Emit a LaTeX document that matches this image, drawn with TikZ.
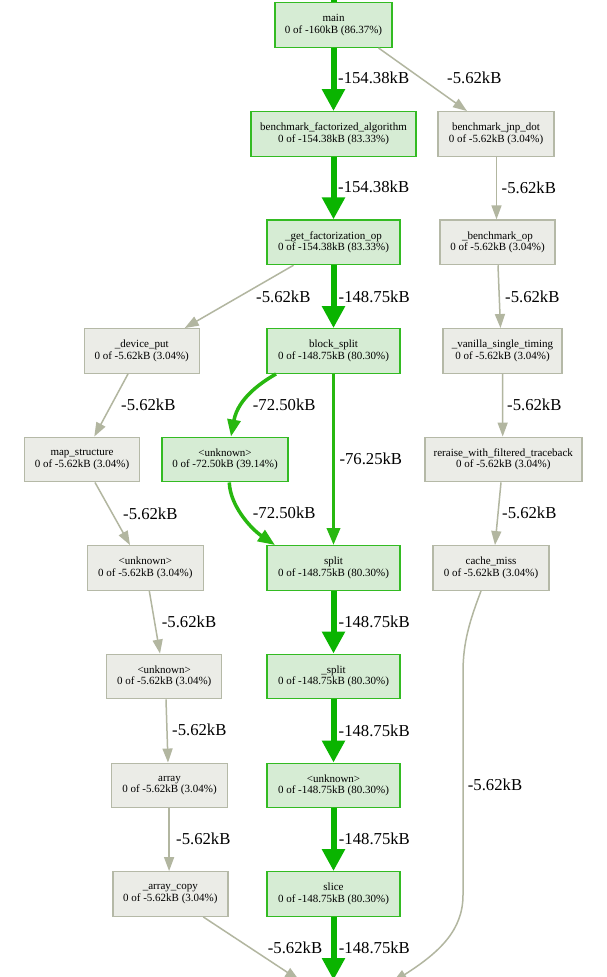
\documentclass[tikz,border=0pt]{standalone}
\usepackage{fontspec}
\setmainfont{Liberation Serif}
\usetikzlibrary{arrows.meta}

\definecolor{hotfill}{HTML}{D6ECD4}
\definecolor{hotline}{HTML}{33BB22}
\definecolor{hotedge}{HTML}{0AB400}
\definecolor{midedge}{HTML}{28B810}
\definecolor{coldfill}{HTML}{EBECE7}
\definecolor{coldline}{HTML}{B5B9A7}
\definecolor{coldedge}{HTML}{B2B6A0}

\tikzset{
  fn/.style={draw, rectangle, minimum height=44.5pt, inner sep=0pt, align=center,
             font=\fontsize{11}{11.5}\selectfont, line width=1.4pt},
  hot/.style={fn, fill=hotfill, draw=hotline},
  cold/.style={fn, fill=coldfill, draw=coldline},
  lbl/.style={anchor=west, inner sep=0pt, font=\fontsize{16.7}{16.7}\selectfont},
  heavy/.style={draw=hotedge, line width=6pt, -{Triangle[width=22pt,length=22pt]}},
  medium/.style={draw=midedge, line width=3.5pt, -{Triangle[width=13pt,length=17pt]}},
  thin/.style={draw=coldedge, line width=1.5pt, -{Triangle[width=10pt,length=14pt]}},
}

\begin{document}
\begin{tikzpicture}[x=1pt,y=-1pt]
\clip (0,0) rectangle (607,977);
\fill[white] (0,0) rectangle (607,977);

% hot path
\node[hot, minimum width=117pt] (main)  at (333.5,25)    {main\\0 of -160kB (86.37\%)};
\node[hot, minimum width=165pt] (bfa)   at (333.5,134)   {benchmark\_factorized\_algorithm\\0 of -154.38kB (83.33\%)};
\node[hot, minimum width=133pt] (gfo)   at (333.5,242.3) {\_get\_factorization\_op\\0 of -154.38kB (83.33\%)};
\node[hot, minimum width=133pt] (bs)    at (333.5,351)   {block\_split\\0 of -148.75kB (80.30\%)};
\node[hot, minimum width=126pt] (u72)   at (225,459.5)   {<unknown>\\0 of -72.50kB (39.14\%)};
\node[hot, minimum width=133pt] (split) at (333.5,568)   {split\\0 of -148.75kB (80.30\%)};
\node[hot, minimum width=133pt] (xsplit) at (333.5,676.5) {\_split\\0 of -148.75kB (80.30\%)};
\node[hot, minimum width=133pt] (u148)  at (333.5,785.5) {<unknown>\\0 of -148.75kB (80.30\%)};
\node[hot, minimum width=133pt] (slice) at (333.5,894)   {slice\\0 of -148.75kB (80.30\%)};

% right column
\node[cold, minimum width=116pt] (bjd)  at (496,134)     {benchmark\_jnp\_dot\\0 of -5.62kB (3.04\%)};
\node[cold, minimum width=115pt] (bop)  at (497.5,242.3) {\_benchmark\_op\\0 of -5.62kB (3.04\%)};
\node[cold, minimum width=119pt] (vst)  at (502.5,351)   {\_vanilla\_single\_timing\\0 of -5.62kB (3.04\%)};
\node[cold, minimum width=157pt] (rwft) at (503.3,459.5) {reraise\_with\_filtered\_traceback\\0 of -5.62kB (3.04\%)};
\node[cold, minimum width=116pt] (cm)   at (491,568)     {cache\_miss\\0 of -5.62kB (3.04\%)};

% left column
\node[cold, minimum width=115pt] (dp)   at (141.7,351)   {\_device\_put\\0 of -5.62kB (3.04\%)};
\node[cold, minimum width=115pt] (ms)   at (82,459.5)    {map\_structure\\0 of -5.62kB (3.04\%)};
\node[cold, minimum width=116pt] (ul1)  at (145.3,568)   {<unknown>\\0 of -5.62kB (3.04\%)};
\node[cold, minimum width=115pt] (ul2)  at (164.2,676.5) {<unknown>\\0 of -5.62kB (3.04\%)};
\node[cold, minimum width=116pt] (arr)  at (169.5,785.5) {array\\0 of -5.62kB (3.04\%)};
\node[cold, minimum width=115pt] (ac)   at (170.3,894)   {\_array\_copy\\0 of -5.62kB (3.04\%)};

% free ends beyond the frame
\coordinate (caller) at (333.5,-12);
\coordinate (sinkl) at (299,980);
\coordinate (sinkm) at (333.5,980);
\coordinate (sinkr) at (393,982);

% connectors
\draw[draw=hotedge, line width=6pt] (caller) -- (main.north);
\draw[heavy] (main.south) -- (bfa.north);
\draw[thin] ([xshift=45pt]main.south) -- ([xshift=-29pt]bjd.north);
\draw[heavy] (bfa.south) -- (gfo.north);
\draw[thin] ([xshift=0.5pt]bjd.south) -- ([xshift=-1pt]bop.north);
\draw[thin] ([xshift=-40pt]gfo.south) -- ([xshift=43pt]dp.north);
\draw[heavy] (gfo.south) -- (bs.north);
\draw[thin] ([xshift=0.5pt]bop.south) -- ([xshift=-2pt]vst.north);
\draw[thin] ([xshift=-13.7pt]dp.south) -- ([xshift=12.3pt]ms.north);
\draw[medium] ([xshift=-57.5pt]bs.south) .. controls (262,382) and (238,398) .. ([xshift=6pt]u72.north);
\draw[medium] (bs.south) -- (split.north);
\draw[thin] (vst.south) -- ([xshift=-0.6pt]rwft.north);
\draw[thin] ([xshift=13pt]ms.south) -- ([xshift=-15.3pt]ul1.north);
\draw[medium] ([xshift=4.3pt]u72.south) .. controls (230,505) and (250,528) .. ([xshift=-58.5pt]split.north);
\draw[thin] ([xshift=-2.3pt]rwft.south) -- ([xshift=4pt]cm.north);
\draw[thin] ([xshift=4pt]ul1.south) -- ([xshift=-4.2pt]ul2.north);
\draw[heavy] (split.south) -- (xsplit.north);
\draw[thin] ([xshift=1.8pt]ul2.south) -- ([xshift=-1.5pt]arr.north);
\draw[heavy] (xsplit.south) -- (u148.north);
\draw[thin] ([xshift=-10pt]cm.south) .. controls (470,620) and (463,642) .. (463,672)
            -- (463,895) .. controls (463,930) and (440,952) .. (sinkr);
\draw[thin] ([xshift=-0.4pt]arr.south) -- ([xshift=-1.2pt]ac.north);
\draw[heavy] (u148.south) -- (slice.north);
\draw[thin] ([xshift=33pt]ac.south) -- (sinkl);
\draw[heavy] (slice.south) -- (sinkm);

% edge labels
\node[lbl] (l01) at (338,78)    {-154.38kB};
\node[lbl] (l02) at (447,78)    {-5.62kB};
\node[lbl] (l03) at (338,187)   {-154.38kB};
\node[lbl] (l04) at (501.5,188) {-5.62kB};
\node[lbl] (l05) at (256,296.5) {-5.62kB};
\node[lbl] (l06) at (338.5,296.5) {-148.75kB};
\node[lbl] (l07) at (505,296.5) {-5.62kB};
\node[lbl] (l08) at (121,405)   {-5.62kB};
\node[lbl] (l09) at (252.7,404.5) {-72.50kB};
\node[lbl] (l10) at (507,405)   {-5.62kB};
\node[lbl] (l11) at (339.3,459) {-76.25kB};
\node[lbl] (l12) at (123,513.5) {-5.62kB};
\node[lbl] (l13) at (252.7,513) {-72.50kB};
\node[lbl] (l14) at (502,513)   {-5.62kB};
\node[lbl] (l15) at (161.7,621.7) {-5.62kB};
\node[lbl] (l16) at (338.5,622) {-148.75kB};
\node[lbl] (l17) at (172,730)   {-5.62kB};
\node[lbl] (l18) at (338.5,730.5) {-148.75kB};
\node[lbl] (l19) at (467.7,785) {-5.62kB};
\node[lbl] (l20) at (176,839)   {-5.62kB};
\node[lbl] (l21) at (338.7,839) {-148.75kB};
\node[lbl] (l22) at (267.7,948) {-5.62kB};
\node[lbl] (l23) at (338.7,948) {-148.75kB};
\end{tikzpicture}
\end{document}
